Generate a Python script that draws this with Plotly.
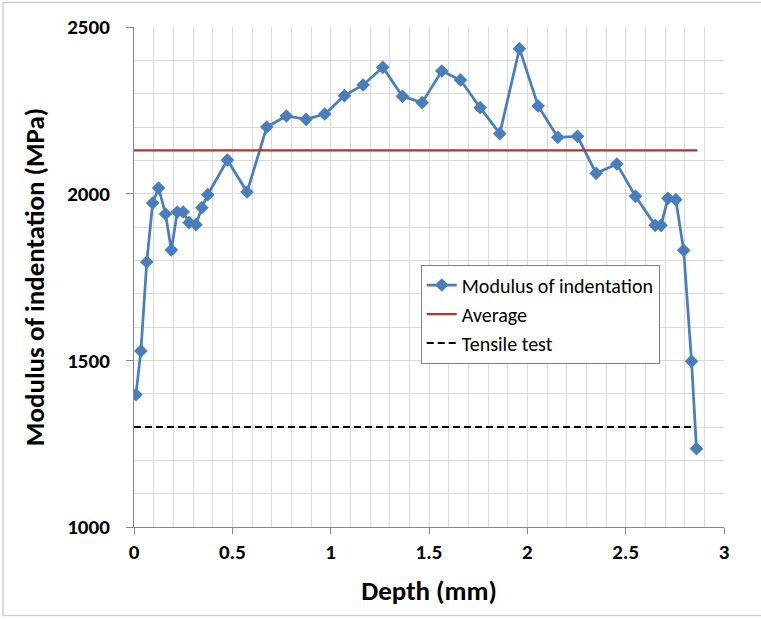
import plotly.graph_objects as go

depth = [0.01, 0.035, 0.065, 0.095, 0.125, 0.16, 0.19, 0.22, 0.25, 0.28, 0.315, 0.345, 0.375,
         0.475, 0.575, 0.675, 0.775, 0.875, 0.97, 1.07, 1.165, 1.265, 1.365, 1.465, 1.565,
         1.66, 1.76, 1.86, 1.96, 2.055, 2.155, 2.255, 2.35, 2.455, 2.55, 2.65, 2.68, 2.715,
         2.755, 2.795, 2.835, 2.86]
modulus = [1397, 1528, 1795, 1972, 2017, 1939, 1831, 1945, 1945, 1913, 1907, 1958, 1997,
           2101, 2005, 2200, 2233, 2223, 2239, 2294, 2326, 2379, 2292, 2273, 2368,
           2341, 2258, 2180, 2435, 2263, 2169, 2172, 2061, 2089, 1992, 1905, 1905, 1986,
           1982, 1830, 1497, 1235]
avg_x = [0, 2.865]
avg_y = [2130, 2130]
tensile_x = [0, 2.85]
tensile_y = [1300, 1300]

FONT = "Carlito, 'Liberation Sans Narrow', Lato, Roboto, sans-serif"

fig = go.Figure()
fig.add_trace(go.Scatter(x=depth, y=modulus, mode="lines+markers", name="Modulus of indentation",
                         line=dict(color="#4a7ebb", width=2.75),
                         marker=dict(symbol="diamond", size=10.5, color="#4a7ebb")))
fig.add_trace(go.Scatter(x=avg_x, y=avg_y, mode="lines", name="Average",
                         line=dict(color="#b8312f", width=2.25)))
fig.add_trace(go.Scatter(x=tensile_x, y=tensile_y, mode="lines", name="Tensile test",
                         line=dict(color="black", width=2, dash="7px,4px")))

grid = "#d9d9d9"
fig.update_layout(
    width=761, height=619,
    margin=dict(l=134, r=37, t=27, b=92),
    paper_bgcolor="white", plot_bgcolor="white",
    font=dict(family=FONT, color="black"),
    showlegend=True,
    legend=dict(x=0.486, y=0.525, xanchor="left", yanchor="top",
                bordercolor="#808080", borderwidth=1, bgcolor="white",
                font=dict(size=20, family=FONT), itemwidth=30, tracegroupgap=0),
    xaxis=dict(range=[0, 3], dtick=0.5, tick0=0, showgrid=True, gridcolor=grid, gridwidth=1,
               minor=dict(dtick=0.1, showgrid=True, gridcolor=grid, gridwidth=1),
               showline=True, linecolor="#868686", linewidth=1,
               ticks="outside", ticklen=6, tickcolor="#868686",
               tickfont=dict(size=21, family=FONT, weight="bold"),
               title=dict(text="<b>Depth (mm)</b>", font=dict(size=27, family=FONT), standoff=16),
               zeroline=False),
    yaxis=dict(range=[1000, 2500], dtick=500, tick0=1000, showgrid=True, gridcolor=grid, gridwidth=1,
               minor=dict(dtick=100, showgrid=True, gridcolor=grid, gridwidth=1),
               showline=True, linecolor="#868686", linewidth=1,
               ticks="outside", ticklen=7, tickcolor="#868686",
               ticklabelstandoff=12,
               tickfont=dict(size=21, family=FONT, weight="bold"),
               title=dict(text="<b>Modulus of indentation (MPa)</b>", font=dict(size=27, family=FONT), standoff=14),
               zeroline=False),
    shapes=[dict(type="rect", xref="paper", yref="paper", x0=-0.222, x1=1.1, y0=-0.177, y1=1.049,
                 line=dict(color="#cfcfcf", width=1.5), fillcolor="rgba(0,0,0,0)", layer="below")],
)

fig.write_html("out.html")
